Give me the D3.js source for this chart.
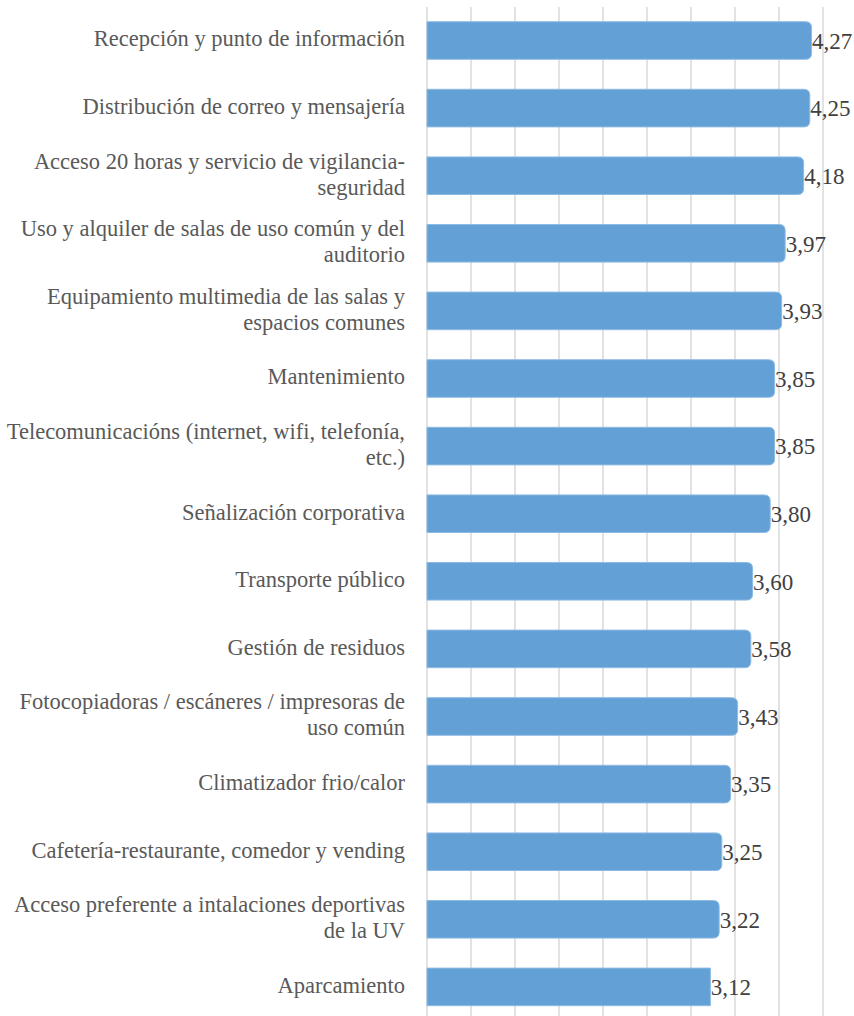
<!DOCTYPE html>
<html>
<head>
<meta charset="utf-8">
<script src="https://cdnjs.cloudflare.com/ajax/libs/d3/7.8.5/d3.min.js"></script>
<style>
  html, body { margin: 0; padding: 0; background: #fff; }
  text.cat { font-family: "Liberation Serif", "DejaVu Serif", serif; font-size: 22.5px; fill: #595959; }
  text.val { font-family: "Liberation Serif", "DejaVu Serif", serif; font-size: 23px; fill: #404040; }
  line.grid { stroke: #d9d9d9; stroke-width: 1.5px; }
</style>
</head>
<body>
<div id="chart"></div>
<script>
// categories, top to bottom (line breaks as in the original)
var categories = [
  "Recepción y punto de información",
  "Distribución de correo y mensajería",
  "Acceso 20 horas y servicio de vigilancia-\nseguridad",
  "Uso y alquiler de salas de uso común y del\nauditorio",
  "Equipamiento multimedia de las salas y\nespacios comunes",
  "Mantenimiento",
  "Telecomunicacións (internet, wifi, telefonía,\netc.)",
  "Señalización corporativa",
  "Transporte público",
  "Gestión de residuos",
  "Fotocopiadoras / escáneres / impresoras de\nuso común",
  "Climatizador frio/calor",
  "Cafetería-restaurante, comedor y vending",
  "Acceso preferente a intalaciones deportivas\nde la UV",
  "Aparcamiento"
];
var values = [4.27, 4.25, 4.18, 3.97, 3.93, 3.85, 3.85, 3.80, 3.60, 3.58, 3.43, 3.35, 3.25, 3.22, 3.12];
var gridTicks = [-0.1, 0.4, 0.9, 1.4, 1.9, 2.4, 2.9, 3.4, 3.9, 4.4];

var width = 854, height = 1016;

var svg = d3.select("#chart").append("svg")
    .attr("width", width)
    .attr("height", height);

var x = d3.scaleLinear().domain([-0.1, 4.4]).range([427, 823]);
var y = d3.scaleBand().domain(categories).range([6.7, 1020.7])
    .paddingInner(0.444).paddingOuter(0.222);

svg.selectAll("line.grid")
    .data(gridTicks)
    .enter().append("line")
    .attr("class", "grid")
    .attr("x1", function (d) { return x(d); })
    .attr("x2", function (d) { return x(d); })
    .attr("y1", 7)
    .attr("y2", height);

// bars: right corners rounded, except the last one
function barPath(d, i) {
    var x0 = x(-0.1), x1 = x(d), y0 = y(categories[i]), h = y.bandwidth();
    var r = i === values.length - 1 ? 0 : 6;
    return "M" + x0 + "," + y0 +
        "H" + (x1 - r) +
        "Q" + x1 + "," + y0 + " " + x1 + "," + (y0 + r) +
        "V" + (y0 + h - r) +
        "Q" + x1 + "," + (y0 + h) + " " + (x1 - r) + "," + (y0 + h) +
        "H" + x0 + "Z";
}

svg.selectAll("path.bar")
    .data(values)
    .enter().append("path")
    .attr("class", "bar")
    .attr("d", barPath)
    .attr("fill", "#62a0d6")
    .attr("stroke", "#8ebbe4")
    .attr("stroke-width", 1);

svg.selectAll("text.val")
    .data(values)
    .enter().append("text")
    .attr("class", "val")
    .attr("x", function (d) { return x(d) + 0.5; })
    .attr("y", function (d, i) { return y(categories[i]) + y.bandwidth() / 2; })
    .attr("dy", "0.36em")
    .text(function (d) { return d.toFixed(2).replace(".", ","); });

var cats = svg.selectAll("text.cat")
    .data(categories)
    .enter().append("text")
    .attr("class", "cat")
    .attr("text-anchor", "end")
    .attr("x", 405)
    .attr("y", function (d) { return y(d) + y.bandwidth() / 2; });

cats.each(function (d) {
    var lines = d.split("\n");
    var t = d3.select(this);
    var lh = 26;
    lines.forEach(function (l, k) {
        t.append("tspan")
            .attr("x", 405)
            .attr("dy", k === 0 ? (0.35 * 22.5 - (lines.length - 1) * lh / 2 - 2) + "px" : lh + "px")
            .text(l);
    });
});
</script>
</body>
</html>
